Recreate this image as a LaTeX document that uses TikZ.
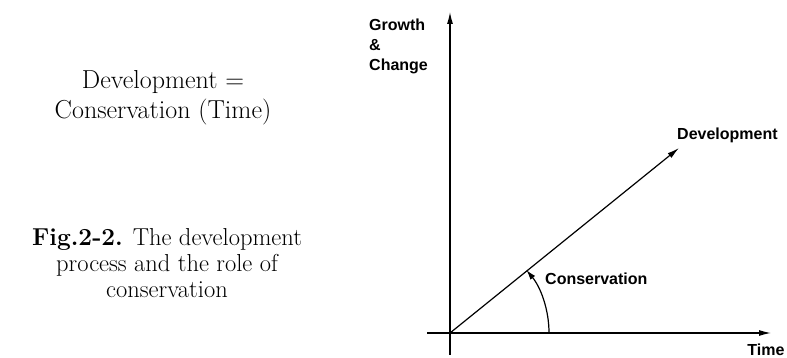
\documentclass[tikz,border=0pt]{standalone}
\usepackage{fontspec}
\newfontfamily\labfont{Liberation Sans}
\usetikzlibrary{arrows.meta}
\tikzset{
  axis/.style={line width=1.2pt, -{Latex[length=12pt,width=6pt]}},
  lab/.style={font=\labfont\bfseries\fontsize{16}{20}\selectfont, inner sep=0pt},
  serif/.style={align=center, inner sep=0pt}
}
\begin{document}
\begin{tikzpicture}[x=1pt,y=1pt]
\useasboundingbox (0,0) rectangle (787,358);
% coordinates
\coordinate (O) at (450,25);
\coordinate (ytop) at (450,346);
\coordinate (ybot) at (450,3);
\coordinate (xleft) at (427,25);
\coordinate (xright) at (771,25);
\coordinate (dtip) at (679,210);
% left texts
\node[serif, font=\fontsize{26}{30}\selectfont] (eq) at (163,260) {Development =\\Conservation (Time)};
\node[serif, font=\fontsize{24.5}{26}\selectfont] (cap) at (167,95) {\textbf{Fig.2-2.} The development\\process and the role of\\conservation};
% axes
\draw[line width=1.2pt] (ybot) -- (O);
\draw[axis] (O) -- (ytop);
\draw[line width=1.2pt] (xleft) -- (O);
\draw[axis] (O) -- (xright);
\draw[axis] (O) -- (dtip);
% conservation arc
\draw[line width=1.2pt, -{Latex[length=10pt,width=6pt]}] (549,25) arc[start angle=0, end angle=39.5, radius=99];
% labels
\node[lab, anchor=west, align=left] (gc) at (369,312) {Growth\\[0pt]\&\\[0pt]Change};
\node[lab, anchor=base west] (dev) at (677,218) {Development};
\node[lab, anchor=west] (cons) at (545,79) {Conservation};
\node[lab, anchor=center] (time) at (766,8) {Time};
\end{tikzpicture}
\end{document}
